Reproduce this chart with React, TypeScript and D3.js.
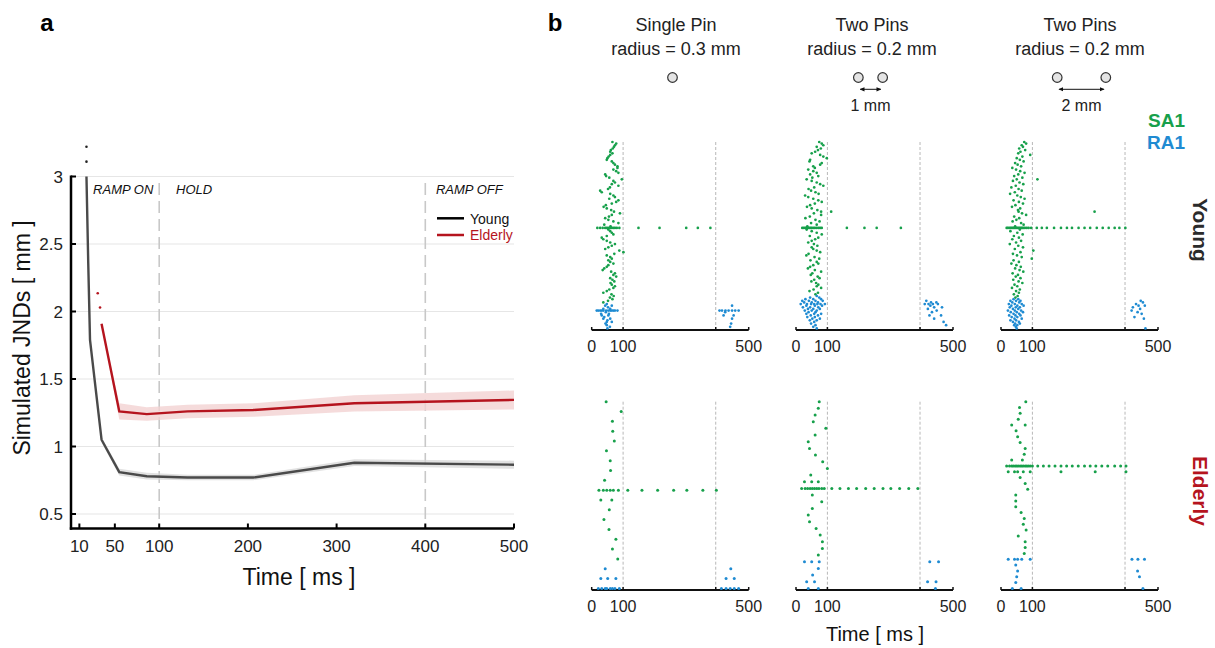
import React from 'react';
import * as d3 from 'd3';

const W = 1215;
const H = 648;
const FONT = "'Liberation Sans', Arial, Helvetica, sans-serif";
const GREEN = '#17a04b';
const BLUE = '#1f8bd2';
const RED = '#b5141e';

// ---------- panel a : simulated JNDs ----------
const youngTime = [18, 20, 22, 35, 55, 86, 132, 206, 320, 500];
const youngJnd = [3.0, 2.36, 1.79, 1.05, 0.81, 0.78, 0.77, 0.77, 0.88, 0.865];
const youngSpread = [0, 0, 0.01, 0.02, 0.025, 0.025, 0.02, 0.02, 0.025, 0.03];
const youngAboveTime = [18, 18];
const youngAboveJnd = [3.11, 3.22];

const elderlyTime = [35, 55, 86, 132, 206, 320, 500];
const elderlyJnd = [1.91, 1.26, 1.24, 1.26, 1.27, 1.32, 1.345];
const elderlySpread = [0, 0.06, 0.05, 0.05, 0.05, 0.06, 0.07];
const elderlyLeadTime = [30.7, 33.3];
const elderlyLeadJnd = [2.135, 2.03];

const timeTicks = [10, 50, 100, 200, 300, 400, 500];
const jndTicks = [0.5, 1, 1.5, 2, 2.5, 3];
const phaseBounds = [100, 400];
const phaseNames = ['RAMP ON', 'HOLD', 'RAMP OFF'];
const phaseNameTime = [25.5, 119, 412];

// ---------- panel b : afferent rasters (spike times in ms, one list per afferent) ----------
const stimulusName = ['Single Pin', 'Two Pins', 'Two Pins'];
const pinRadiusMm = [0.3, 0.2, 0.2];
const pinCount = [1, 2, 2];
const pinGapMm = [0, 1, 2];
const rasterTicks = [0, 100, 395, 500];
const rasterTickLabels = [0, 100, 500];
const rasterBounds = [100, 395];

const youngSinglePinSA1 = [
  [66], [78], [74], [71], [67], [61], [59], [66], [59], [54],
  [50], [48], [64], [69], [74], [82], [82], [69], [78], [85],
  [43], [46], [56], [96], [69], [74], [64], [85], [58], [52],
  [27], [32], [59], [69], [74], [56], [85], [78], [64], [45],
  [38], [48], [62], [71], [90], [64], [55], [43], [53], [69],
  [85], [40], [60],
  [18, 27, 35, 43, 48, 53, 59, 64, 69, 74, 80, 88, 149, 216, 301, 338, 378],
  [53], [59], [64], [69], [48], [32], [37], [48], [59], [74],
  [64], [53], [43], [88], [101], [72], [48], [59], [64], [53],
  [59], [69], [53], [48], [40], [35], [62], [74], [69], [78],
  [59], [66], [72], [60], [64], [74], [69], [56], [48], [37],
  [63], [70], [58], [66], [52], [37],
];
const youngSinglePinRA1 = [
  [48], [43, 64, 447], [52], [37, 59],
  [16, 21, 27, 32, 37, 46, 53, 59, 64, 69, 74, 82, 407, 415, 426, 436, 447, 457, 468],
  [45, 425], [30, 55], [32, 53, 420, 452], [40], [37, 59, 447], [50], [48, 64],
  [44, 444], [48], [58, 441], [50],
];

const youngPins1mmSA1 = [
  [74], [82], [87], [66], [79], [70], [61], [50], [77], [87],
  [98], [45], [43], [82], [77], [55], [60], [39], [55], [66],
  [45], [71], [52], [34], [50], [66], [77], [87], [58], [40],
  [48], [62], [72], [29], [39], [55], [71], [82], [60], [45],
  [35], [50], [68], [80, 112], [57], [80], [44], [30], [62], [75],
  [48], [66], [36],
  [20, 25, 30, 34, 38, 42, 46, 50, 55, 60, 66, 72, 77, 82, 162, 218, 257, 334],
  [34], [50], [66], [82], [44], [71], [61], [50], [39], [57],
  [68], [50], [55], [66], [77], [40], [33], [59], [74], [46],
  [66], [71], [55], [45], [38], [60], [80], [52], [47], [69],
  [75], [58], [49], [64], [71], [66], [80], [56], [43], [70], [62],
];
const youngPins1mmRA1 = [
  [66], [45, 74], [30, 55, 80], [20, 41, 62, 85, 415], [26, 50, 70, 430, 447],
  [15, 35, 48, 58, 68, 78, 92, 410, 422, 436, 452], [33, 60, 83, 428], [22, 45, 71, 440, 465],
  [38, 55, 76, 420], [28, 50, 66, 448], [40, 62, 433], [33, 58, 80], [47, 70, 425, 462],
  [36, 60], [52, 76, 440], [44, 66], [58, 470], [48], [62, 478], [55], [66],
];

const youngPins2mmSA1 = [
  [74], [80], [66], [70], [58], [77], [62], [55], [93], [68],
  [50], [60], [72], [45], [53], [64], [36], [48], [61], [75],
  [55], [42], [68], [50, 116], [38], [59], [71], [47], [33], [56],
  [66], [44], [29], [52], [63], [75], [40], [57], [70], [46],
  [35], [61], [54], [56, 298], [67], [80], [42], [58], [49], [37],
  [64], [72], [45],
  [18, 22, 27, 31, 35, 39, 43, 47, 51, 55, 59, 63, 67, 71, 76, 82, 88, 96, 114, 130, 146, 169, 191, 210, 226, 247, 266, 284, 305, 324, 343, 362, 377, 396],
  [60], [30], [52], [69], [41], [57], [36], [64], [48], [28],
  [55], [70], [44], [103], [62], [38], [51], [66], [98], [40],
  [57], [33], [49], [63], [45], [59], [71], [37], [54], [47],
  [62], [39], [56], [68], [43], [52], [35], [60], [48], [57], [41], [53], [46],
];
const youngPins2mmRA1 = [
  [40, 55], [30, 48, 62, 445], [36, 58, 452], [25, 44, 66, 430], [33, 52, 72, 438, 458],
  [28, 47, 60, 420], [38, 55, 443], [22, 44, 64, 416], [31, 50, 70, 435], [40, 58, 448],
  [26, 46, 62], [34, 52, 425], [43, 66, 455], [30, 48], [38, 57], [45, 60], [42, 52], [47], [50, 460],
];

const elderlySinglePinSA1 = [
  [46], [94], [66], [67], [72], [47], [59], [60], [41],
  [23, 37, 48, 59, 69, 85, 115, 160, 210, 261, 303, 354, 397],
  [29, 64], [56], [39], [55], [77], [66], [83],
];
const elderlySinglePinRA1 = [
  [43, 443],
  [29, 51, 77, 428, 454],
  [21, 32, 43, 48, 59, 66, 74, 88, 413, 428, 441, 454, 468],
];

const elderlyPins1mmSA1 = [
  [74], [71], [61], [55], [95], [61], [39], [43], [62], [85], [100], [47], [27, 50, 71],
  [18, 29, 37, 45, 52, 59, 66, 73, 82, 90, 114, 140, 167, 193, 222, 249, 277, 302, 330, 359, 388],
  [52], [82], [52], [39], [43], [64], [77], [84], [84], [71],
];
const elderlyPins1mmRA1 = [
  [27, 50, 74, 426, 454], [71], [53], [34, 59, 419, 446], [39, 71, 444],
];

const elderlyPins2mmSA1 = [
  [79], [59], [61], [55], [34, 77], [48], [53], [61], [77], [74], [34, 68],
  [18, 27, 34, 39, 45, 50, 55, 61, 66, 71, 77, 82, 87, 93, 100, 117, 135, 153, 172, 191, 209, 227, 246, 266, 284, 302, 321, 340, 362, 381, 398],
  [23, 43, 53, 71, 93, 191, 300, 398],
  [61], [77], [85], [47], [47], [47], [64], [74], [71], [80], [55], [77], [77], [74],
];
const elderlyPins2mmRA1 = [
  [23, 43, 53, 66, 93, 417, 436, 457], [47], [53, 435], [50, 441], [47], [36, 64, 452],
];

const youngRasters = [
  [youngSinglePinSA1, youngSinglePinRA1],
  [youngPins1mmSA1, youngPins1mmRA1],
  [youngPins2mmSA1, youngPins2mmRA1],
];
const elderlyRasters = [
  [elderlySinglePinSA1, elderlySinglePinRA1],
  [elderlyPins1mmSA1, elderlyPins1mmRA1],
  [elderlyPins2mmSA1, elderlyPins2mmRA1],
];

// layout
const colLeft = [591.7, 796, 1001];
const titleCenter = [676, 872, 1080];
const pinCenter = [672.5, 870.5, 1081.5];
const rasterWidth = 157;
const pxPerMm = 24.3;

function Raster({ left, top, axisY, sa1, ra1, r }: any) {
  const x = d3.scaleLinear().domain([0, 500]).range([left, left + rasterWidth]);
  const rows = [
    ...sa1.map((times: number[]) => ({ times, color: GREEN })),
    ...ra1.map((times: number[]) => ({ times, color: BLUE })),
  ];
  const y = d3.scaleLinear().domain([0, rows.length - 1]).range([top, axisY - 1.6]);
  return (
    <g>
      {rasterBounds.map(b => (
        <line key={b} x1={x(b)} x2={x(b)} y1={top} y2={axisY} stroke="#b8b8b8" strokeWidth={1} strokeDasharray="3,2" />
      ))}
      <line x1={x(0)} x2={x(500)} y1={axisY} y2={axisY} stroke="#111" strokeWidth={2} />
      {rasterTicks.map(t => (
        <line key={t} x1={x(t)} x2={x(t)} y1={axisY} y2={axisY - 3} stroke="#111" strokeWidth={1.5} />
      ))}
      {rasterTickLabels.map(t => (
        <text key={t} x={x(t)} y={axisY + 22} textAnchor="middle" fontSize={16} fill="#222">{t}</text>
      ))}
      {rows.map((row, i) =>
        row.times.map((t: number, j: number) => (
          <circle key={i + '-' + j} cx={x(t)} cy={y(i)} r={r} fill={row.color} />
        ))
      )}
    </g>
  );
}

function PanelA() {
  const x = d3.scaleLinear().domain([0, 500]).range([70.5, 514]);
  const y = d3.scaleLinear().domain([0.4, 3]).range([527.5, 176.5]);
  const axisY = 528.5;
  const axisX = 71;
  const line = d3.line<number>().x(d => d[0]).y(d => d[1]);

  const youngPts = youngTime.map((t, i) => [x(t), y(youngJnd[i])]);
  const elderlyPts = elderlyTime.map((t, i) => [x(t), y(elderlyJnd[i])]);
  const band = (ts: number[], vs: number[], ss: number[]) =>
    d3.area<number>()
      .x(i => x(ts[i]))
      .y0(i => y(vs[i] - ss[i]))
      .y1(i => y(vs[i] + ss[i]))(d3.range(ts.length)) || '';

  return (
    <g>
      <text x={47} y={31} textAnchor="middle" fontSize={24} fontWeight="bold">a</text>
      {jndTicks.map(v => (
        <line key={v} x1={axisX} x2={x(500)} y1={y(v)} y2={y(v)} stroke="#e6e6e6" strokeWidth={1.2} />
      ))}
      {phaseBounds.map(t => (
        <line key={t} x1={x(t)} x2={x(t)} y1={183} y2={axisY} stroke="#c8c8c8" strokeWidth={1.6} strokeDasharray="12,6" />
      ))}
      {phaseNames.map((n, i) => (
        <text key={n} x={x(phaseNameTime[i])} y={194} fontSize={13} fontStyle="italic" fill="#111">{n}</text>
      ))}
      <path d={band(youngTime, youngJnd, youngSpread)} fill="#d4d4d4" opacity={0.7} />
      <path d={band(elderlyTime, elderlyJnd, elderlySpread)} fill="#f2d2d2" opacity={0.8} />
      <path d={line(youngPts as any) || ''} fill="none" stroke="#4a4a4a" strokeWidth={2.4} />
      <path d={line(elderlyPts as any) || ''} fill="none" stroke={RED} strokeWidth={2.4} />
      {youngAboveTime.map((t, i) => (
        <circle key={'ya' + i} cx={x(t)} cy={y(youngAboveJnd[i])} r={1.3} fill="#222" />
      ))}
      {elderlyLeadTime.map((t, i) => (
        <circle key={'el' + i} cx={x(t)} cy={y(elderlyLeadJnd[i])} r={1.3} fill={RED} />
      ))}
      {/* axes */}
      <line x1={axisX} x2={axisX} y1={y(3) - 1} y2={axisY + 1.2} stroke="#000" strokeWidth={2.5} />
      <line x1={axisX - 1.2} x2={x(500)} y1={axisY} y2={axisY} stroke="#000" strokeWidth={2.5} />
      {jndTicks.map(v => (
        <g key={v}>
          <line x1={axisX} x2={axisX + 5} y1={y(v)} y2={y(v)} stroke="#000" strokeWidth={2} />
          <text x={63} y={y(v) + 6} textAnchor="end" fontSize={17} fill="#222">{v}</text>
        </g>
      ))}
      {timeTicks.map(t => (
        <g key={t}>
          <line x1={x(t)} x2={x(t)} y1={axisY} y2={axisY - 5} stroke="#000" strokeWidth={2} />
          <text x={x(t)} y={552} textAnchor="middle" fontSize={17} fill="#222">{t}</text>
        </g>
      ))}
      <text x={299} y={585} textAnchor="middle" fontSize={23} fill="#111">Time [ ms ]</text>
      <text transform="translate(30,338) rotate(-90)" textAnchor="middle" fontSize={23} fill="#111">Simulated JNDs [ mm ]</text>
      {/* legend */}
      <line x1={437} x2={464} y1={218.3} y2={218.3} stroke="#000" strokeWidth={2.5} />
      <text x={470} y={223.5} fontSize={14} fill="#111">Young</text>
      <line x1={437} x2={464} y1={235} y2={235} stroke={RED} strokeWidth={2.5} />
      <text x={470} y={240.2} fontSize={14} fill={RED}>Elderly</text>
    </g>
  );
}

function PanelB() {
  return (
    <g>
      <defs>
        <marker id="arrowHead" viewBox="0 0 6 6" refX={5} refY={3} markerWidth={5} markerHeight={5} orient="auto-start-reverse">
          <path d="M0,0.5 L6,3 L0,5.5 z" fill="#111" />
        </marker>
      </defs>
      <text x={555} y={31} textAnchor="middle" fontSize={24} fontWeight="bold">b</text>
      {stimulusName.map((name, i) => {
        const cx = pinCenter[i];
        const pins = d3.range(pinCount[i]).map(k =>
          pinCount[i] === 1 ? cx : cx + (k === 0 ? -1 : 1) * pinGapMm[i] * pxPerMm / 2
        );
        return (
          <g key={i}>
            <text x={titleCenter[i]} y={31} textAnchor="middle" fontSize={18} fill="#222">{name}</text>
            <text x={titleCenter[i]} y={54.5} textAnchor="middle" fontSize={18} fill="#222">{`radius = ${pinRadiusMm[i]} mm`}</text>
            {pins.map((px, k) => (
              <circle key={k} cx={px} cy={77.5} r={4.8} fill="#e4e4e4" stroke="#333" strokeWidth={1.2} />
            ))}
            {pinGapMm[i] > 0 && (
              <g>
                <line x1={pins[0] + 2} x2={pins[1] - 2} y1={89.3} y2={89.3} stroke="#111" strokeWidth={1}
                  markerStart="url(#arrowHead)" markerEnd="url(#arrowHead)" />
                <text x={cx} y={111} textAnchor="middle" fontSize={16} fill="#222">{`${pinGapMm[i]} mm`}</text>
              </g>
            )}
          </g>
        );
      })}
      <text x={1185} y={127} textAnchor="end" fontSize={19} fontWeight="bold" fill={GREEN}>SA1</text>
      <text x={1185} y={148.5} textAnchor="end" fontSize={19} fontWeight="bold" fill={BLUE}>RA1</text>
      {youngRasters.map(([sa1, ra1], i) => (
        <Raster key={'y' + i} left={colLeft[i]} top={142} axisY={330} sa1={sa1} ra1={ra1} r={1.35} />
      ))}
      {elderlyRasters.map(([sa1, ra1], i) => (
        <Raster key={'e' + i} left={colLeft[i]} top={401.7} axisY={590} sa1={sa1} ra1={ra1} r={1.5} />
      ))}
      <text transform="translate(1193,230) rotate(90)" textAnchor="middle" fontSize={21} fontWeight="bold" fill="#2b2b2b">Young</text>
      <text transform="translate(1193,491) rotate(90)" textAnchor="middle" fontSize={21} fontWeight="bold" fill={RED}>Elderly</text>
      <text x={875} y={641} textAnchor="middle" fontSize={20} fill="#111">Time [ ms ]</text>
    </g>
  );
}

export default function App() {
  return (
    <svg width={W} height={H} viewBox={`0 0 ${W} ${H}`} fontFamily={FONT}
      style={{ position: 'absolute', left: 0, top: 0, background: '#fff' }}>
      <rect width={W} height={H} fill="#fff" />
      <PanelA />
      <PanelB />
    </svg>
  );
}
